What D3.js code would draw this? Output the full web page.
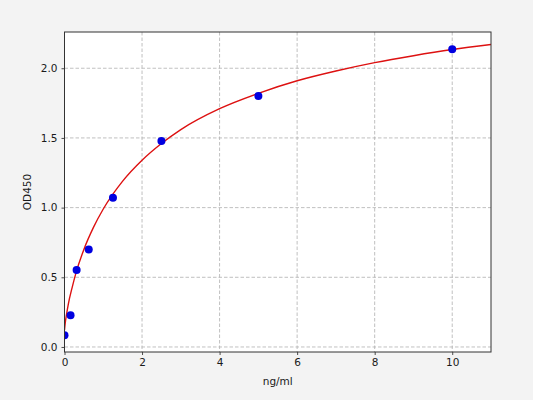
<!DOCTYPE html>
<html>
<head>
<meta charset="utf-8">
<script src="https://cdn.jsdelivr.net/npm/d3@7"></script>
<style>
  html, body { margin: 0; padding: 0; background: #f3f3f3; }
  svg { display: block; font-family: "DejaVu Sans", sans-serif; }
</style>
</head>
<body>
<svg id="chart" width="533" height="400"></svg>
<script>
// Standard points (concentration ng/ml, OD450)
const concentrations = [0, 0.156, 0.3125, 0.625, 1.25, 2.5, 5, 10];
const odValues = [0.084, 0.227, 0.552, 0.70, 1.071, 1.478, 1.80, 2.136];

// Fitted curve
const curveX = [0, 0.02, 0.05, 0.1, 0.2, 0.3, 0.5, 0.75, 1.0, 1.5, 2.0, 2.5, 3, 4, 5, 6, 7, 8, 9, 10, 11];
const curveY = [0.12, 0.175, 0.23, 0.31, 0.43, 0.535, 0.70, 0.86, 0.99, 1.19, 1.34, 1.46, 1.56, 1.71, 1.82, 1.91, 1.98, 2.04, 2.09, 2.134, 2.17];

const xTicks = [0, 2, 4, 6, 8, 10];
const yTicks = [0.0, 0.5, 1.0, 1.5, 2.0];
const xLabel = "ng/ml";
const yLabel = "OD450";

const svg = d3.select("#chart");
const pL = 64.5, pR = 491, pT = 32, pB = 352;

const x = d3.scaleLinear().domain([0, 11]).range([pL, pR]);
const y = d3.scaleLinear().domain([-0.036, 2.26]).range([pB, pT]);

svg.append("rect").attr("x", pL).attr("y", pT)
  .attr("width", pR - pL).attr("height", pB - pT).attr("fill", "#ffffff");

svg.append("defs").append("clipPath").attr("id", "clip")
  .append("rect").attr("x", pL).attr("y", pT)
  .attr("width", pR - pL).attr("height", pB - pT);

// grid
const grid = svg.append("g").attr("stroke", "#b0b0b0").attr("stroke-width", 0.8)
  .attr("stroke-dasharray", "3.5,2");
grid.selectAll(".gx").data(xTicks).join("line").attr("class", "gx")
  .attr("x1", d => x(d)).attr("x2", d => x(d)).attr("y1", pT).attr("y2", pB);
grid.selectAll(".gy").data(yTicks).join("line").attr("class", "gy")
  .attr("y1", d => y(d)).attr("y2", d => y(d)).attr("x1", pL).attr("x2", pR);

const plot = svg.append("g").attr("clip-path", "url(#clip)");

const line = d3.line().x(d => x(d[0])).y(d => y(d[1])).curve(d3.curveMonotoneX);
plot.append("path").datum(curveX.map((v, i) => [v, curveY[i]]))
  .attr("d", line).attr("fill", "none").attr("stroke", "#dd1111").attr("stroke-width", 1.4);

plot.selectAll("circle").data(concentrations.map((v, i) => [v, odValues[i]])).join("circle")
  .attr("cx", d => x(d[0])).attr("cy", d => y(d[1])).attr("r", 4).attr("fill", "#0000e0");

// axes
const xAxis = d3.axisBottom(x).tickValues(xTicks).tickSize(3).tickPadding(4).tickFormat(d3.format("d"));
const yAxis = d3.axisLeft(y).tickValues(yTicks).tickSize(3).tickPadding(4).tickFormat(d3.format(".1f"));

const gx = svg.append("g").attr("transform", `translate(0,${pB})`).call(xAxis);
const gy = svg.append("g").attr("transform", `translate(${pL},0)`).call(yAxis);
[gx, gy].forEach(g => {
  g.select(".domain").remove();
  g.selectAll(".tick line").attr("stroke", "#222").attr("stroke-width", 0.8);
  g.selectAll(".tick text").attr("fill", "#1a1a1a").attr("font-size", 10.5)
    .attr("font-family", "DejaVu Sans, sans-serif");
});

// spines
svg.append("rect").attr("x", pL).attr("y", pT)
  .attr("width", pR - pL).attr("height", pB - pT)
  .attr("fill", "none").attr("stroke", "#333").attr("stroke-width", 1);

svg.append("text").attr("x", (pL + pR) / 2).attr("y", 385)
  .attr("text-anchor", "middle").attr("font-size", 10.5).attr("fill", "#1a1a1a").text(xLabel);
svg.append("text").attr("transform", `translate(30.5,${(pT + pB) / 2}) rotate(-90)`)
  .attr("text-anchor", "middle").attr("font-size", 10.5).attr("fill", "#1a1a1a").text(yLabel);
</script>
</body>
</html>
